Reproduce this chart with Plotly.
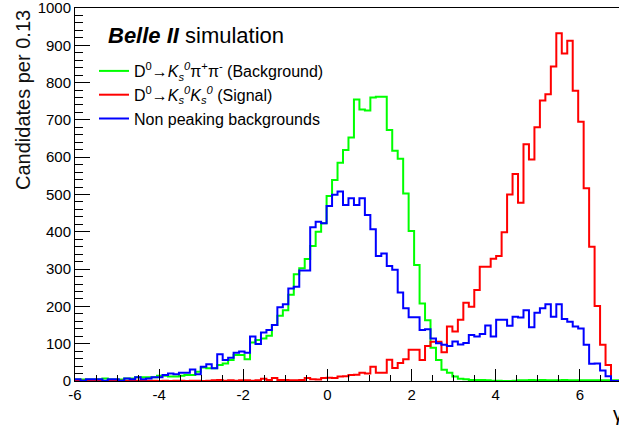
import numpy as np
import plotly.graph_objects as go

# Histogram: 100 bins of width 0.13 from -6 to 7
bin_low = -6.0
bin_width = 0.13
n_bins = 100

background_kspipi = [
    4, 4, 4, 4, 4, 7, 4, 4, 4, 7,
    7, 10, 10, 10, 10, 14, 14, 12, 12, 14,
    16, 16, 25, 36, 34, 34, 43, 47, 56, 70,
    70, 58, 103, 110, 114, 121, 150, 175, 190, 231,
    286, 302, 327, 362, 400, 423, 496, 539, 585, 619,
    653, 755, 728, 725, 760, 762, 762, 673, 617, 596,
    503, 402, 311, 208, 163, 89, 56, 30, 22, 12,
    6, 5, 3, 3, 3, 2, 1, 1, 0, 0,
    1, 2, 2, 3, 2, 3, 2, 2, 2, 3,
    2, 2, 2, 2, 2, 2, 2, 2, 2, 2,
]

signal_ksks = [
    0, 1, 0, 1, 0, 0, 1, 0, 1, 0,
    0, 1, 0, 1, 1, 0, 1, 0, 1, 1,
    0, 1, 1, 0, 1, 2, 3, 1, 2, 1,
    2, 2, 1, 2, 6, 3, 8, 3, 3, 2,
    2, 3, 8, 5, 4, 8, 9, 8, 12, 13,
    16, 17, 22, 20, 38, 22, 22, 57, 35, 48,
    58, 84, 84, 56, 94, 105, 105, 77, 146, 133,
    164, 210, 199, 244, 306, 306, 328, 335, 399, 500,
    555, 478, 635, 594, 680, 752, 769, 843, 932, 878,
    912, 778, 695, 517, 360, 201, 97, 43, 0, 0,
]

non_peaking = [
    5, 1, 5, 5, 5, 1, 5, 5, 1, 7,
    5, 10, 5, 7, 10, 10, 16, 20, 18, 22,
    22, 31, 18, 38, 45, 34, 72, 56, 62, 76,
    79, 76, 119, 99, 130, 137, 150, 198, 206, 248,
    253, 296, 296, 412, 427, 423, 469, 499, 508, 472,
    490, 472, 490, 445, 407, 335, 342, 308, 298, 237,
    195, 171, 171, 137, 139, 114, 101, 97, 94, 106,
    98, 102, 123, 119, 126, 149, 119, 164, 164, 148,
    172, 170, 190, 144, 183, 195, 206, 172, 206, 166,
    159, 146, 141, 97, 46, 47, 28, 13, 0, 0,
]

series_names = [
    "D<sup>0</sup>→<i>K</i><sub><i>s</i></sub><sup><i>0</i></sup>π<sup>+</sup>π<sup>-</sup> (Background)",
    "D<sup>0</sup>→<i>K</i><sub><i>s</i></sub><sup><i>0</i></sup><i>K</i><sub><i>s</i></sub><sup><i>0</i></sup> (Signal)",
    "Non peaking backgrounds",
]
series_colors = ["#00ff00", "#ff0000", "#0000ff"]
x_ticks = [-6, -4, -2, 0, 2, 4, 6]
y_ticks = [0, 100, 200, 300, 400, 500, 600, 700, 800, 900, 1000]

edges = bin_low + bin_width * np.arange(n_bins + 1)

FONT = "Liberation Sans, Arial, Helvetica, sans-serif"

fig = go.Figure()
for vals, name, col in zip([background_kspipi, signal_ksks, non_peaking], series_names, series_colors):
    fig.add_trace(go.Scatter(
        x=edges, y=list(vals) + [vals[-1]],
        mode="lines", line=dict(color=col, width=2, shape="hv"),
        name=name,
    ))

W, H = 619, 432
L, R, T, B = 75, 0, 8, 51
pw, ph = W - L - R, H - T - B

def px_x(px):
    return (px - L) / pw

def px_y(py):
    return (H - B - py) / ph

fig.update_layout(
    width=W, height=H,
    margin=dict(l=L, r=R, t=T, b=B, autoexpand=False),
    paper_bgcolor="white", plot_bgcolor="white",
    font=dict(family=FONT, size=15, color="black"),
    showlegend=True,
    legend=dict(
        x=px_x(94), y=px_y(54), xanchor="left", yanchor="top",
        bgcolor="rgba(0,0,0,0)", borderwidth=0,
        font=dict(family=FONT, size=16, color="black"),
        itemwidth=30, tracegroupgap=0,
    ),
    xaxis=dict(
        range=[-6, 6.93], tickvals=x_ticks, ticktext=[str(v) for v in x_ticks],
        ticks="inside", ticklen=12, tickwidth=1, tickcolor="black",
        minor=dict(dtick=0.5, ticks="inside", ticklen=6, tickwidth=1, tickcolor="black"),
        showline=True, linecolor="black", linewidth=1, mirror=True,
        showgrid=False, zeroline=False, automargin=False,
        ticklabeloverflow="allow",
        tickfont=dict(family=FONT, size=15, color="black"),
    ),
    yaxis=dict(
        range=[0, 1000], tickvals=y_ticks, ticktext=[str(v) for v in y_ticks],
        ticks="inside", ticklen=15, tickwidth=1, tickcolor="black",
        minor=dict(dtick=20, ticks="inside", ticklen=8, tickwidth=1, tickcolor="black"),
        showline=True, linecolor="black", linewidth=1, mirror=False,
        showgrid=False, zeroline=False, automargin=False,
        ticklabeloverflow="allow",
        tickfont=dict(family=FONT, size=15, color="black"),
    ),
)

fig.add_annotation(
    text="Candidates per 0.13", textangle=-90,
    xref="paper", yref="paper", x=px_x(23), y=1.0,
    xanchor="center", yanchor="top", showarrow=False,
    font=dict(family=FONT, size=20, color="#111111"),
)
fig.add_annotation(
    text="<b><i>Belle II</i></b> simulation",
    xref="paper", yref="paper", x=px_x(106), y=px_y(35),
    xanchor="left", yanchor="middle", showarrow=False,
    font=dict(family=FONT, size=22, color="black"),
)
fig.add_annotation(
    text="γ",
    xref="paper", yref="paper", x=px_x(611), y=px_y(414),
    xanchor="left", yanchor="middle", showarrow=False,
    font=dict(family=FONT, size=20, color="black"),
)

fig.write_html(
    "out.html",
    config={"displayModeBar": False},
    post_script="document.body.style.margin='0';document.body.style.overflow='hidden';",
)
